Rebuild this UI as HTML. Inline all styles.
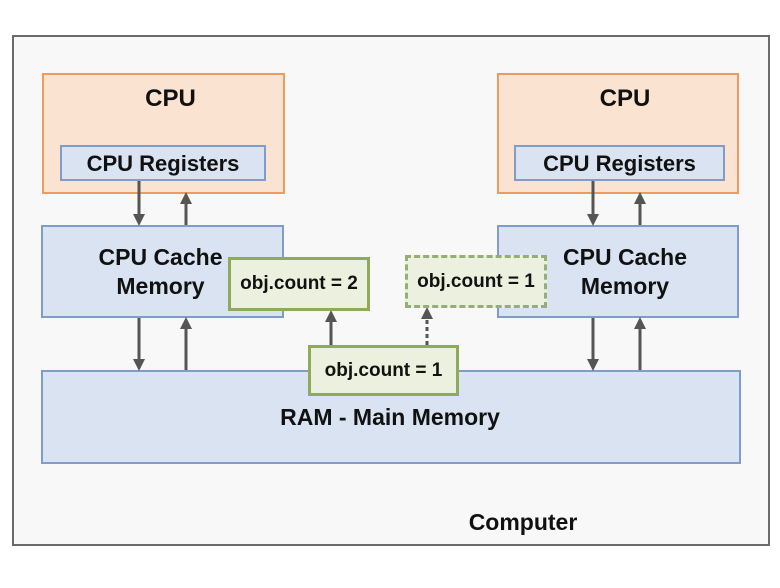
<!DOCTYPE html>
<html><head><style>
body{margin:0;width:780px;height:588px;background:#fff;font-family:"Liberation Sans",Arial,sans-serif;overflow:hidden}
.b{position:absolute;box-sizing:border-box;display:flex;align-items:center;justify-content:center;text-align:center;font-weight:bold;color:#111;white-space:nowrap}
.cpu{background:#fbe3d2;border:2px solid #ef9a5e;align-items:flex-start;padding-top:10px;font-size:24px}
.blue{background:#d9e3f1;border:2px solid #7f9ccb;font-size:23px;line-height:29px}
.reg{font-size:22px}
.g{background:#ebf1de;border:3px solid #8eab5c;font-size:19px}
</style></head><body>
<div class="b" style="left:12px;top:35px;width:758px;height:511px;border:2px solid #6a6a6a;background:#f8f8f8"></div>
<div class="b cpu" style="left:42px;top:73px;width:243px;height:121px;padding-left:14px">CPU</div>
<div class="b blue reg" style="left:60px;top:145px;width:206px;height:36px">CPU Registers</div>
<div class="b cpu" style="left:497px;top:73px;width:242px;height:121px;padding-left:14px">CPU</div>
<div class="b blue reg" style="left:514px;top:145px;width:211px;height:36px">CPU Registers</div>
<div class="b blue" style="left:41px;top:225px;width:243px;height:93px;padding-right:4px">CPU Cache<br>Memory</div>
<div class="b blue" style="left:497px;top:225px;width:242px;height:93px;padding-left:14px">CPU Cache<br>Memory</div>
<div class="b blue" style="left:41px;top:370px;width:700px;height:94px;padding-right:2px">RAM - Main Memory</div>
<svg style="position:absolute;left:0;top:0" width="780" height="588">
<defs><marker id="a" markerWidth="4" markerHeight="4" refX="2" refY="2" orient="auto"><path d="M0,0L4,2L0,4z" fill="#555"/></marker></defs>
<g stroke="#555" stroke-width="3" marker-end="url(#a)">
<line x1="139" y1="181" x2="139" y2="220"/><line x1="186" y1="225" x2="186" y2="198"/>
<line x1="593" y1="181" x2="593" y2="220"/><line x1="640" y1="225" x2="640" y2="198"/>
<line x1="139" y1="318" x2="139" y2="365"/><line x1="186" y1="370" x2="186" y2="323"/>
<line x1="593" y1="318" x2="593" y2="365"/><line x1="640" y1="370" x2="640" y2="323"/>
<line x1="331" y1="345" x2="331" y2="316"/>
<line x1="427" y1="345" x2="427" y2="313" stroke-dasharray="4,3"/>
</g></svg>
<div class="b g" style="left:228px;top:257px;width:142px;height:54px">obj.count = 2</div>
<div class="b g" style="left:405px;top:255px;width:142px;height:53px;border-style:dashed;border-color:#96ad74">obj.count = 1</div>
<div class="b g" style="left:308px;top:345px;width:151px;height:51px">obj.count = 1</div>
<div class="b" style="left:433px;top:508px;width:180px;height:28px;font-size:23px">Computer</div>
</body></html>
